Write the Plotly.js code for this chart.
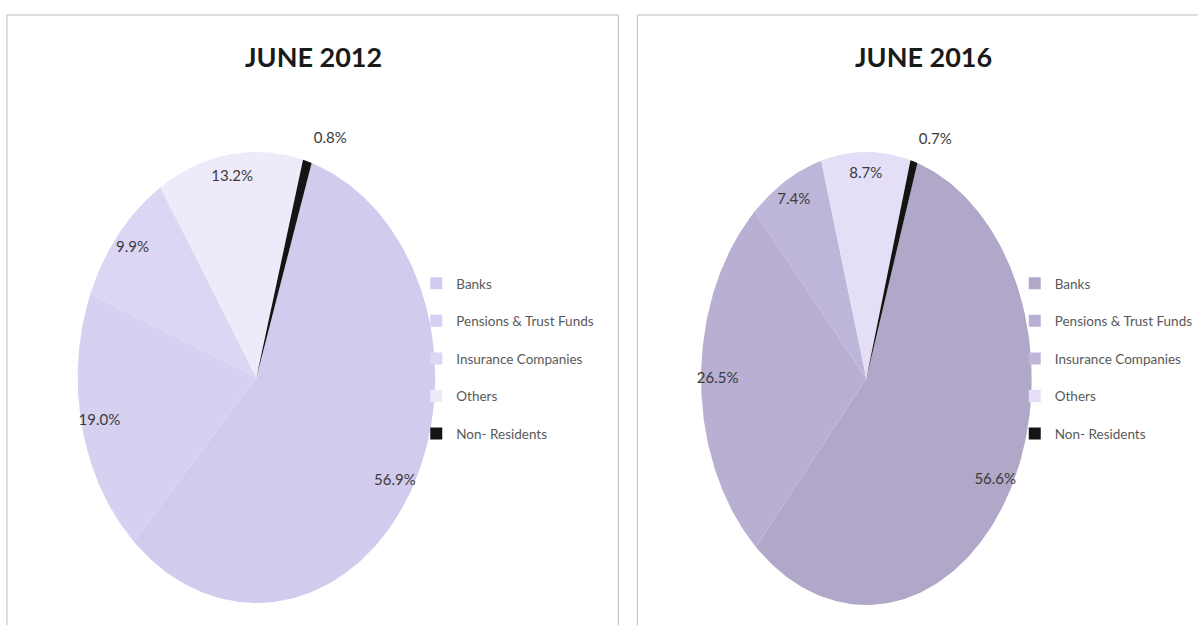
<!DOCTYPE html>
<html><head><meta charset="utf-8">
<script src="https://cdn.plot.ly/plotly-3.0.1.min.js"></script>
<style>html,body{margin:0;padding:0;background:#fff;overflow:hidden}#chart{width:1198px;height:625px}</style>
</head><body><div id="chart"></div>
<script>
const categories = ["Banks", "Pensions & Trust Funds", "Insurance Companies", "Others", "Non- Residents"];
const values2012 = [56.9, 19.0, 9.9, 13.2, 0.8];
const values2016 = [56.6, 26.5, 7.4, 8.7, 0.7];
const titles = ["JUNE 2012", "JUNE 2016"];
const colors2012 = ["#d2cbee", "#d7d1f1", "#dcd6f4", "#eeeafa", "#141414"];
const colors2016 = ["#b1a7c8", "#b8afd3", "#beb6d9", "#e4dff6", "#141414"];

const FONT = "Lato, 'Open Sans', sans-serif";
const START = 18; // degrees clockwise from 12 o'clock

function wedges(values, colors, ax, ay) {
  const total = values.reduce((a, b) => a + b, 0);
  const traces = [];
  const lx = [], ly = [], lt = [];
  let a0 = START;
  values.forEach((v, i) => {
    const span = v / total * 360;
    const a1 = a0 + span;
    const xs = [0], ys = [0];
    const n = Math.max(2, Math.ceil(span));
    for (let k = 0; k <= n; k++) {
      const t = (a0 + span * k / n) * Math.PI / 180;
      xs.push(Math.sin(t)); ys.push(Math.cos(t));
    }
    xs.push(0); ys.push(0);
    traces.push({
      type: "scatter", mode: "lines", x: xs, y: ys, xaxis: ax, yaxis: ay,
      fill: "toself", fillcolor: colors[i], line: {width: 0, color: colors[i]},
      hoverinfo: "skip", showlegend: false
    });
    const mid = (a0 + span / 2) * Math.PI / 180;
    const r = v < 3 ? 1.1 : 0.9;
    lx.push(Math.sin(mid) * r + (v < 3 ? 0.1 : 0));
    ly.push(Math.cos(mid) * r);
    lt.push(v.toFixed(1) + "%");
    a0 = a1;
  });
  traces.push({
    type: "scatter", mode: "text", x: lx, y: ly, text: lt, xaxis: ax, yaxis: ay,
    textposition: "middle center", cliponaxis: false,
    textfont: {family: FONT, size: 15, color: "#3a3a3a"},
    hoverinfo: "skip", showlegend: false
  });
  return traces;
}

function legendTraces(colors, legendId) {
  return categories.map((c, i) => ({
    type: "scatter", mode: "markers", x: [null], y: [null],
    name: c, legend: legendId, legendgroup: legendId + i,
    marker: {symbol: "square", size: 6, color: colors[i]},
    xaxis: legendId === "legend" ? "x" : "x2", yaxis: legendId === "legend" ? "y" : "y2"
  }));
}

const data = [].concat(
  wedges(values2012, colors2012, "x", "y"),
  wedges(values2016, colors2016, "x2", "y2"),
  legendTraces(colors2012, "legend"),
  legendTraces(colors2016, "legend2")
);

const W = 1198, H = 625;
const XR = [-1.3, 1.3], YR = [-1, 1.3];
// axis whose unit ellipse spans the given pixel box; range extended so outside labels stay visible
function xAxisFor(left, right) {
  const r = (right - left) / 2, c = (left + right) / 2;
  return {visible: false, fixedrange: true, range: XR,
          domain: [(c + XR[0] * r) / W, (c + XR[1] * r) / W]};
}
function yAxisFor(top, bottom) {
  const r = (bottom - top) / 2, c = (top + bottom) / 2;
  return {visible: false, fixedrange: true, range: YR,
          domain: [(H - (c - YR[0] * r)) / H, (H - (c - YR[1] * r)) / H]};
}
const legendCommon = {
  font: {family: FONT, size: 13.5, color: "#595959"},
  bgcolor: "rgba(0,0,0,0)", tracegroupgap: 17, itemsizing: "constant",
  xanchor: "left", yanchor: "top"
};

const layout = {
  width: W, height: H,
  margin: {l: 0, r: 0, t: 0, b: 0},
  paper_bgcolor: "#ffffff", plot_bgcolor: "rgba(0,0,0,0)",
  xaxis: xAxisFor(78, 437),
  yaxis: yAxisFor(152, 603),
  xaxis2: xAxisFor(704, 1036),
  yaxis2: yAxisFor(152, 605),
  legend: Object.assign({x: 418 / W, y: 1 - 268 / H}, legendCommon),
  legend2: Object.assign({x: 1019 / W, y: 1 - 268 / H}, legendCommon),
  annotations: titles.map((t, i) => ({
    text: t, xref: "paper", yref: "paper",
    x: (i === 0 ? 315 : 927) / W, y: 1 - 57 / H,
    xanchor: "center", yanchor: "middle", showarrow: false,
    font: {family: FONT, size: 27, color: "#1a1a1a", weight: "bold"}
  })),
  shapes: [
    {type: "rect", xref: "paper", yref: "paper", x0: 7 / W, x1: 621 / W, y0: -0.05, y1: 1 - 15 / H,
     line: {color: "#bdbdbd", width: 1}},
    {type: "rect", xref: "paper", yref: "paper", x0: 640 / W, x1: 1.05, y0: -0.05, y1: 1 - 15 / H,
     line: {color: "#bdbdbd", width: 1}}
  ]
};

Plotly.newPlot("chart", data, layout, {displayModeBar: false, staticPlot: true});
</script>
</body></html>
